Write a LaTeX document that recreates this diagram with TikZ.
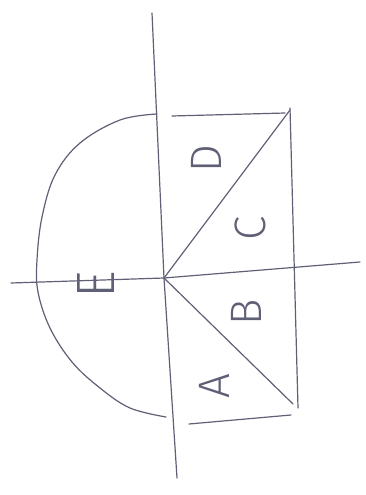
\documentclass[tikz,border=0pt]{standalone}
\usepackage{fontspec}
\newfontfamily\handfont{Fira Sans Light}
\definecolor{ink}{RGB}{95,95,118}
\tikzset{
  sketch/.style = {draw=ink, line width=1.2pt, line cap=round, line join=round},
  letter/.style = {text=ink, font=\handfont\fontsize{44}{44}\selectfont, rotate=90, inner sep=0pt}
}

\begin{document}
\begin{tikzpicture}[x=1pt,y=-1pt]
  \useasboundingbox (0,0) rectangle (366,495);
  \coordinate (O) at (164,278);
  \coordinate (axtop) at (152,13);
  \coordinate (axbot) at (177,478);
  \coordinate (axleft) at (11,283);
  \coordinate (axright) at (360,262);
  \coordinate (tl) at (172,116);
  \coordinate (tr) at (285,113);
  \coordinate (rtop) at (290,108);
  \coordinate (rbot) at (298,408);
  \coordinate (dtop) at (290,110);
  \coordinate (dbot) at (293,404);
  \coordinate (bl) at (189,424);
  \coordinate (br) at (291,415);
  \draw[sketch] (axtop) -- (O) -- (axbot);
  \draw[sketch] (axleft) -- (O) -- (axright);
  \draw[sketch] (tl) -- (tr);
  \draw[sketch] (rtop) -- (rbot);
  \draw[sketch] (O) -- (dtop);
  \draw[sketch] (O) -- (dbot);
  \draw[sketch] (bl) -- (br);
  \draw[sketch] plot[smooth, tension=0.6] coordinates {(157,114) (120,120) (80,143) (55,175) (42,217) (37,260) (38,292) (50,328) (72,362) (100,388) (130,408) (166,417)};
  \node[letter] (D) at (206,159) {D};
  \node[letter] (C) at (250,228) {C};
  \node[letter] (B) at (246,312) {B};
  \node[letter] (A) at (214,386) {A};
  \node[letter, font=\handfont\fontsize{54}{54}\selectfont] (E) at (96,285) {E};
\end{tikzpicture}
\end{document}
